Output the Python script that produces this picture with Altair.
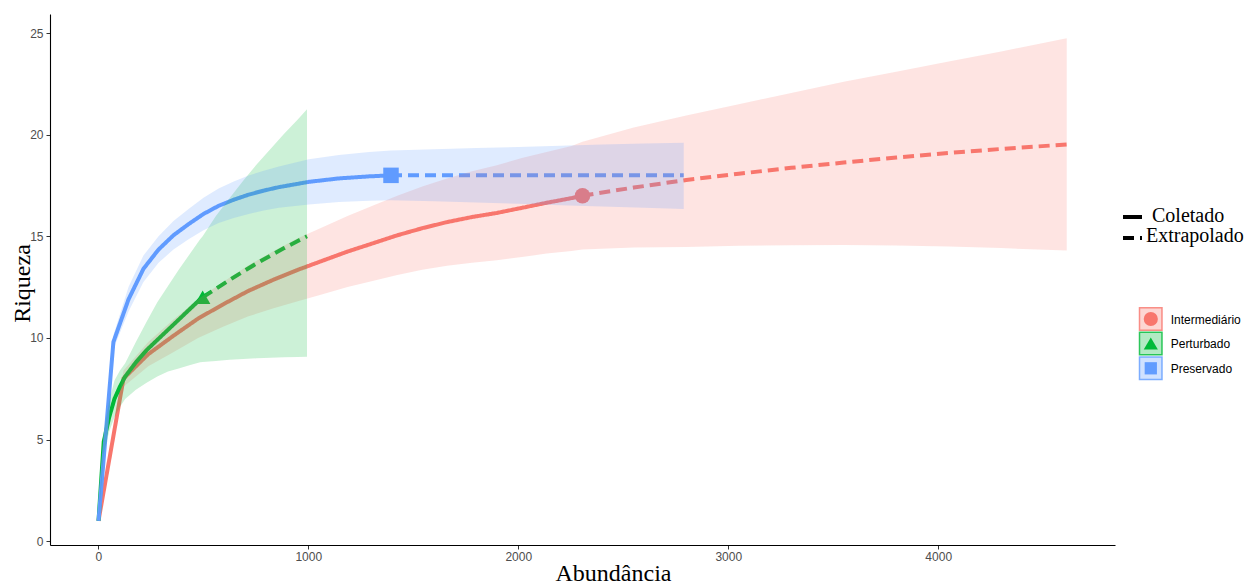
import altair as alt
import pandas as pd

# ---------------- data ----------------
groups = ["Intermediário", "Perturbado", "Preservado"]
colors = ["#F8766D", "#00BA38", "#619CFF"]
shapes = ["circle", "triangle-up", "square"]
methods = ["Coletado", "Extrapolado"]

x_ticks = [0, 1000, 2000, 3000, 4000]
y_ticks = [0, 5, 10, 15, 20, 25]

# Intermediário
int_rare_x = [1, 120, 238, 357, 475, 594, 712, 831, 950, 1068, 1187, 1306, 1424, 1543, 1661, 1780, 1898, 2017, 2135, 2254, 2306]
int_rare_y = [1.0, 8.0, 9.2, 10.1, 10.95, 11.65, 12.3, 12.85, 13.35, 13.8, 14.25, 14.65, 15.05, 15.4, 15.7, 15.95, 16.15, 16.4, 16.65, 16.88, 17.0]
int_rare_lo = [1.0, 7.6, 8.6, 9.3, 10.0, 10.55, 11.05, 11.45, 11.8, 12.15, 12.5, 12.8, 13.1, 13.35, 13.55, 13.7, 13.82, 13.98, 14.15, 14.28, 14.35]
int_rare_hi = [1.0, 8.4, 9.8, 10.9, 11.9, 12.75, 13.55, 14.25, 14.9, 15.45, 16.0, 16.5, 17.0, 17.45, 17.85, 18.2, 18.5, 18.85, 19.15, 19.45, 19.65]
int_ext_x = [2306, 2550, 2800, 3050, 3300, 3550, 3800, 4050, 4300, 4612]
int_ext_y = [17.0, 17.4, 17.77, 18.08, 18.37, 18.63, 18.88, 19.1, 19.3, 19.52]
int_ext_lo = [14.35, 14.45, 14.48, 14.53, 14.56, 14.57, 14.55, 14.5, 14.42, 14.3]
int_ext_hi = [19.65, 20.35, 20.95, 21.5, 22.05, 22.6, 23.1, 23.6, 24.1, 24.75]

# Perturbado
per_rare_x = [1, 26, 52, 77, 103, 128, 179, 230, 281, 332, 383, 434, 485, 497]
per_rare_y = [1.0, 4.9, 6.1, 7.0, 7.6, 8.1, 8.8, 9.4, 9.9, 10.4, 10.9, 11.4, 11.9, 12.0]
per_rare_lo = [1.0, 4.3, 5.4, 6.1, 6.6, 7.0, 7.45, 7.8, 8.1, 8.35, 8.5, 8.65, 8.8, 8.82]
per_rare_hi = [1.0, 5.4, 6.9, 7.9, 8.4, 8.75, 9.8, 10.8, 11.75, 12.55, 13.35, 14.1, 14.85, 15.0]
per_ext_x = [497, 560, 625, 690, 755, 820, 885, 950, 994]
per_ext_y = [12.0, 12.42, 12.85, 13.27, 13.67, 14.05, 14.42, 14.77, 15.0]
per_ext_lo = [8.82, 8.87, 8.92, 8.96, 9.0, 9.03, 9.05, 9.06, 9.07]
per_ext_hi = [15.0, 16.0, 16.87, 17.74, 18.55, 19.3, 20.05, 20.75, 21.25]

# Preservado
pre_rare_x = [1, 72, 144, 215, 287, 358, 430, 501, 573, 645, 716, 788, 860, 1003, 1146, 1290, 1394]
pre_rare_y = [1.0, 9.8, 11.9, 13.4, 14.35, 15.05, 15.6, 16.1, 16.5, 16.8, 17.05, 17.25, 17.42, 17.68, 17.85, 17.95, 18.0]
pre_rare_lo = [1.0, 9.45, 11.3, 12.75, 13.7, 14.35, 14.85, 15.3, 15.65, 15.9, 16.1, 16.27, 16.4, 16.57, 16.69, 16.75, 16.78]
pre_rare_hi = [1.0, 10.15, 12.5, 14.05, 15.0, 15.75, 16.35, 16.9, 17.35, 17.7, 17.99, 18.23, 18.43, 18.79, 19.0, 19.15, 19.22]
pre_ext_x = [1394, 1600, 1800, 2000, 2200, 2400, 2600, 2788]
pre_ext_y = [18.0, 18.0, 18.0, 18.0, 18.0, 18.0, 18.0, 18.0]
pre_ext_lo = [16.78, 16.72, 16.66, 16.6, 16.53, 16.47, 16.41, 16.35]
pre_ext_hi = [19.22, 19.28, 19.34, 19.4, 19.46, 19.52, 19.57, 19.6]

obs_x = [2306, 497, 1394]
obs_y = [17.0, 12.0, 18.0]

# ---------------- tables ----------------
rows = []
def add(group, method, xs, ys, los, his):
    for a, b, c, d in zip(xs, ys, los, his):
        rows.append(dict(group=group, method=method, x=a, y=b, lo=c, hi=d,
                         series=group + "|" + method))

add(groups[0], methods[0], int_rare_x, int_rare_y, int_rare_lo, int_rare_hi)
add(groups[0], methods[1], int_ext_x[1:], int_ext_y[1:], int_ext_lo[1:], int_ext_hi[1:])
add(groups[1], methods[0], per_rare_x, per_rare_y, per_rare_lo, per_rare_hi)
add(groups[1], methods[1], per_ext_x[1:], per_ext_y[1:], per_ext_lo[1:], per_ext_hi[1:])
add(groups[2], methods[0], pre_rare_x, pre_rare_y, pre_rare_lo, pre_rare_hi)
add(groups[2], methods[1], pre_ext_x[1:], pre_ext_y[1:], pre_ext_lo[1:], pre_ext_hi[1:])
rib = pd.DataFrame(rows)  # one continuous ribbon per group

rows = []
add(groups[0], methods[0], int_rare_x, int_rare_y, int_rare_lo, int_rare_hi)
add(groups[0], methods[1], int_ext_x, int_ext_y, int_ext_lo, int_ext_hi)
add(groups[1], methods[0], per_rare_x, per_rare_y, per_rare_lo, per_rare_hi)
add(groups[1], methods[1], per_ext_x, per_ext_y, per_ext_lo, per_ext_hi)
add(groups[2], methods[0], pre_rare_x, pre_rare_y, pre_rare_lo, pre_rare_hi)
add(groups[2], methods[1], pre_ext_x, pre_ext_y, pre_ext_lo, pre_ext_hi)
df = pd.DataFrame(rows)
obs = pd.DataFrame(dict(group=groups, x=obs_x, y=obs_y))

# ---------------- scales / axes ----------------
W, H = 1065, 531
xscale = alt.Scale(domain=[-230, 4842], nice=False, zero=False)
yscale = alt.Scale(domain=[-0.19, 25.94], nice=False, zero=False)
cscale = alt.Scale(domain=groups, range=colors)
sscale = alt.Scale(domain=groups, range=shapes)
dscale = alt.Scale(domain=methods, range=[[1, 0], [11, 6]])

xaxis = alt.Axis(values=x_ticks, format="d", title="Abundância", grid=False,
                 titleFont="Liberation Serif", titleFontSize=24, titleFontWeight="normal",
                 titleColor="#000000", titleX=563, titleY=35, titleBaseline="alphabetic",
                 titleAlign="center", labelFont="Liberation Sans", labelFontSize=12,
                 labelColor="#4D4D4D", labelPadding=2, tickSize=4, tickColor="#333333",
                 domainColor="#000000", domainWidth=1.1, labelFlush=False)
yaxis = alt.Axis(values=y_ticks, format="d", title="Riqueza", grid=False,
                 titleFont="Liberation Serif", titleFontSize=24, titleFontWeight="normal",
                 titleColor="#000000", titleX=-21, titleY=269, titleAngle=270,
                 titleBaseline="alphabetic", titleAlign="center",
                 labelFont="Liberation Sans", labelFontSize=12, labelColor="#4D4D4D",
                 labelPadding=3, tickSize=4, tickColor="#333333",
                 domainColor="#000000", domainWidth=1.1, labelFlush=False)

X = alt.X("x:Q", scale=xscale, axis=xaxis)
Y = alt.Y("y:Q", scale=yscale, axis=yaxis)

lines = alt.Chart(df).mark_line(strokeWidth=4).encode(
    x=X, y=Y,
    color=alt.Color("group:N", scale=cscale, legend=None),
    strokeDash=alt.StrokeDash("method:N", scale=dscale, legend=None),
    detail="series:N",
    order="x:Q",
)

points = alt.Chart(obs).mark_point(filled=True, opacity=1, size=240).encode(
    x=X, y=Y,
    color=alt.Color("group:N", scale=cscale, legend=None),
    shape=alt.Shape("group:N", scale=sscale, legend=None),
)

ribbons = alt.Chart(rib).mark_area(fillOpacity=0.2, strokeWidth=0).encode(
    x=alt.X("x:Q", scale=xscale, axis=xaxis),
    y=alt.Y("lo:Q", scale=yscale, axis=yaxis, stack=None),
    y2=alt.Y2("hi:Q"),
    fill=alt.Fill("group:N", scale=cscale, legend=None),
)

# ---------------- legends (drawn as marks, positions in plot pixels) ----------------
one = pd.DataFrame({"k": [0]})
leg = []
# line-type legend
leg.append(alt.Chart(one).mark_rule(color="#000000", strokeWidth=4).encode(
    x=alt.value(1073), x2=alt.value(1092), y=alt.value(203)))
leg.append(alt.Chart(one).mark_rule(color="#000000", strokeWidth=4, strokeDash=[11, 6]).encode(
    x=alt.value(1073), x2=alt.value(1092), y=alt.value(224)))
lt_text = [("Coletado", 1102, 208), ("Extrapolado", 1096, 228)]
for t, px, py in lt_text:
    leg.append(alt.Chart(pd.DataFrame({"t": [t]})).mark_text(
        font="Liberation Serif", fontSize=20, align="left", baseline="alphabetic",
        color="#000000").encode(x=alt.value(px), y=alt.value(py), text="t:N"))

# colour legend
key_y = [305, 329.5, 354.3]
sizes = [200, 200, 150]
for g, c, s, ky, sz in zip(groups, colors, shapes, key_y, sizes):
    leg.append(alt.Chart(one).mark_rect(fill=c, fillOpacity=0.3, stroke=c,
                                         strokeWidth=1.5, strokeOpacity=0.8).encode(
        x=alt.value(1089.5), x2=alt.value(1112), y=alt.value(ky - 11.3), y2=alt.value(ky + 11.3)))
    leg.append(alt.Chart(one).mark_point(shape=s, filled=True, size=sz, color=c, opacity=1).encode(
        x=alt.value(1100.8), y=alt.value(ky)))
    leg.append(alt.Chart(pd.DataFrame({"t": [g]})).mark_text(
        font="Liberation Sans", fontSize=12, align="left", baseline="middle",
        color="#000000").encode(x=alt.value(1120.7), y=alt.value(ky + 0.5), text="t:N"))

chart = alt.layer(lines, points, ribbons, *leg).properties(
    width=W, height=H,
    autosize=alt.AutoSizeParams(type="none"),
    padding={"left": 42, "top": 6, "right": 131, "bottom": 37},
).configure_view(stroke=None)

chart.save("out.html", embed_options={"renderer": "svg", "actions": False})
